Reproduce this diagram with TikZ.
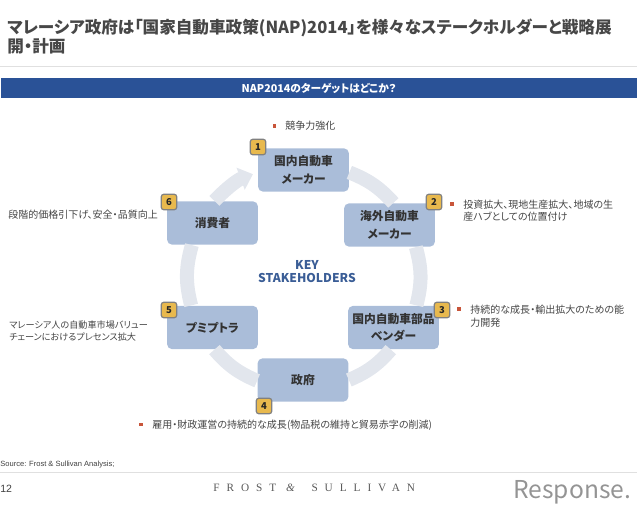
\documentclass[tikz,border=0pt]{standalone}
\usepackage{fontspec}
\setmainfont[RawFeature=+palt]{Noto Sans CJK JP}
\newfontfamily\sourcefont{Liberation Sans}
\newfontfamily\frostfont[LetterSpace=62]{Liberation Serif}
\usetikzlibrary{arrows.meta}
\usetikzlibrary{calc}
\definecolor{bannerblue}{HTML}{2A5297}
\definecolor{boxblue}{HTML}{AABDD9}
\definecolor{ringgrey}{HTML}{E2E6ED}
\definecolor{badgeyellow}{HTML}{E8B94E}
\definecolor{bodygrey}{HTML}{444444}
\definecolor{keyblue}{HTML}{3A5D96}
\definecolor{bulletred}{HTML}{C8553A}
\tikzset{
	stakebox/.style={fill=boxblue, rounded corners=3pt, minimum width=1.82cm, minimum height=0.87cm, inner sep=0pt, align=center, text=black!80, font=\fontsize{6.7}{10}\selectfont\bfseries},
	badge/.style={fill=badgeyellow, draw=black!50, line width=0.7pt, rounded corners=1.5pt, minimum size=0.31cm, inner sep=0pt, text=black!85, font=\fontsize{5.4}{6}\selectfont\bfseries},
	goaltext/.style={anchor=west, inner sep=0pt, align=left, text=bodygrey, font=\fontsize{5.7}{7.1}\selectfont},
	bulletmark/.style={fill=bulletred, minimum size=0.07cm, inner sep=0pt},
	ringline/.style={draw=ringgrey, line width=0.28cm},
	footrule/.style={draw=black!12, line width=0.5pt}
}
\newcommand{\drawStakeBox}[5]{
	\node[stakebox] (#1) at (#2) {#3};
	\node[badge] (#1_badge) at (#4) {#5};
}
\newcommand{\drawGoal}[4]{
	\node[bulletmark] (#1_mark) at (#2) {};
	\node[goaltext] (#1) at (#3) {#4};
}
\begin{document}
\begin{tikzpicture}[x=0.02cm,y=-0.02cm]
	\useasboundingbox (0,0) rectangle (640,514);

	\coordinate (C1) at (303.5,170);
	\coordinate (C2) at (389.5,225);
	\coordinate (C3) at (393.5,327.5);
	\coordinate (C4) at (303,380);
	\coordinate (C5) at (212.5,327.5);
	\coordinate (C6) at (212.5,223);

	\coordinate (N1) at (258,147);
	\coordinate (N2) at (434,202);
	\coordinate (N3) at (442,310);
	\coordinate (N4) at (264,406);
	\coordinate (N5) at (169,310);
	\coordinate (N6) at (169,202);

	% title and banner
	\node[anchor=north west, inner sep=0pt, align=left, text=black!72, font=\fontsize{9.45}{10.8}\selectfont\bfseries] (title) at (7,19) {マレーシア政府は「国家自動車政策(NAP)2014」を様々なステークホルダーと戦略展\\開・計画};
	\coordinate (titlerule_L) at (0,66);
	\coordinate (titlerule_R) at (637,66);
	\draw[footrule] (titlerule_L) -- (titlerule_R);
	\node[fill=bannerblue, minimum width=12.72cm, minimum height=0.4cm, inner sep=0pt, text=white, font=\fontsize{6.1}{7}\selectfont\bfseries] (banner) at (319,88) {NAP2014のターゲットはどこか？};

	\drawStakeBox{maker}{C1}{国内自動車\\メーカー}{N1}{1}
	\drawStakeBox{foreign}{C2}{海外自動車\\メーカー}{N2}{2}
	\drawStakeBox{parts}{C3}{国内自動車部品\\ベンダー}{N3}{3}
	\drawStakeBox{govt}{C4}{政府}{N4}{4}
	\drawStakeBox{infra}{C5}{プミプトラ}{N5}{5}
	\drawStakeBox{buyer}{C6}{消費者}{N6}{6}

	\draw[ringline] (maker.-3) to[bend left=13] (foreign.80);
	\draw[ringline] (foreign.-40) to[bend left=15] (parts.44);
	\draw[ringline] (parts.-97) to[bend left=13] (govt.0);
	\draw[ringline] (govt.181) to[bend left=13] (infra.-85);
	\draw[ringline] (infra.134) to[bend left=15] (buyer.-133);
	\draw[ringline, -{Triangle[length=7.5pt,width=13pt]}, shorten >=0.1cm] (buyer.85) to[bend left=13] (maker.183);

	\node[align=center, text=keyblue, font=\fontsize{6.9}{7.6}\selectfont\bfseries] (hub) at (307,271.5) {KEY\\STAKEHOLDERS};

	\drawGoal{goal1}{274.5,126}{285,126}{競争力強化}
	\drawGoal{goal2}{452,204}{463,210.5}{投資拡大、現地生産拡大、地域の生\\産ハブとしての位置付け}
	\drawGoal{goal3}{459,309}{470,316}{持続的な成長・輸出拡大のための能\\力開発}
	\drawGoal{goal4}{141,424.5}{152,425}{雇用・財政運営の持続的な成長(物品税の維持と貿易赤字の削減)}
	\node[goaltext] (goal6) at (8,215) {段階的価格引下げ、安全・品質向上};
	\node[goaltext, font=\fontsize{5.2}{7.1}\selectfont] (goal5) at (9,331) {マレーシア人の自動車市場バリュー\\チェーンにおけるプレセンス拡大};

	% footer
	\node[anchor=west, inner sep=0pt, text=black!75, font=\sourcefont\fontsize{4.3}{5}\selectfont] (source) at (0,465) {Source: Frost \& Sullivan Analysis;};
	\coordinate (footrule_L) at (0,472);
	\coordinate (footrule_R) at (637,472);
	\draw[footrule] (footrule_L) -- (footrule_R);
	\node[anchor=west, inner sep=0pt, text=black!75, font=\sourcefont\fontsize{6}{7}\selectfont] (pagenum) at (0,489) {12};
	\node[anchor=west, inner sep=0pt, text=black!65, font=\frostfont\fontsize{6.4}{7}\selectfont] (frost) at (213,488) {FROST \textit{\&} SULLIVAN};
	\node[anchor=west, inner sep=0pt, text=black!42, font=\fontsize{14}{15}\selectfont] (response) at (513,492) {Response.};
\end{tikzpicture}
\end{document}
